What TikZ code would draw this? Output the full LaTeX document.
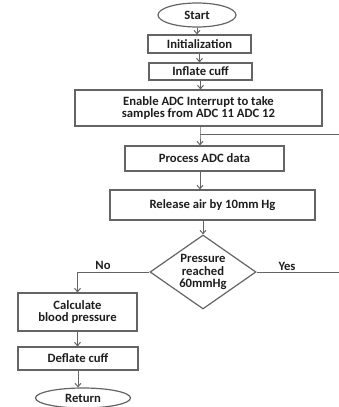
\documentclass[tikz,border=0pt]{standalone}
\usepackage{fontspec}
\setmainfont{Carlito}
\usetikzlibrary{shapes.geometric,arrows.meta}

\definecolor{linegray}{RGB}{100,100,100}
\definecolor{textdark}{RGB}{30,30,30}

\tikzset{every picture/.style={line width=0.75pt}}
\tikzset{
  stepbox/.style={draw=linegray, line width=0.9pt, rectangle, inner sep=0pt, align=center,
    text=textdark, font=\fontsize{9.5}{9.5}\selectfont\bfseries},
  termbox/.style={stepbox, ellipse},
  decbox/.style={stepbox, diamond, aspect=1.43},
  lbl/.style={text=textdark, font=\fontsize{9.5}{9.5}\selectfont\bfseries, inner sep=0pt},
  conn/.style={draw=linegray, line width=0.75pt},
  flow/.style={conn, -{Straight Barb[length=2.5pt,width=4.5pt]}}
}

\begin{document}
\begin{tikzpicture}[x=0.75pt,y=0.75pt,yscale=-1,xscale=1]
%set diagram size 339 x 407
\useasboundingbox (0,0) rectangle (339,407);
\clip (0,0) rectangle (339,407);
%Shape: Ellipse Start
\node[termbox, minimum width=78*0.75pt, minimum height=24*0.75pt] (start) at (197,15) {Start};
%Shape: Rectangle Initialization
\node[stepbox, minimum width=103*0.75pt, minimum height=18*0.75pt] (init) at (199.5,44) {Initialization};
%Shape: Rectangle Inflate
\node[stepbox, minimum width=103*0.75pt, minimum height=17*0.75pt] (inflate) at (200.5,71.5) {Inflate cuff};
%Shape: Rectangle ADC
\node[stepbox, minimum width=247*0.75pt, minimum height=36*0.75pt] (adc) at (198.5,108) {Enable ADC Interrupt to take\\samples from ADC 11 ADC 12};
%Shape: Rectangle Process
\node[stepbox, minimum width=159*0.75pt, minimum height=25*0.75pt] (process) at (204.5,158.5) {Process ADC data};
%Shape: Rectangle Release
\node[stepbox, minimum width=205*0.75pt, minimum height=30*0.75pt] (release) at (212.5,205) {Release air by 10mm Hg};
%Shape: Diamond
\node[decbox, minimum width=106*0.75pt, minimum height=74*0.75pt] (dec) at (203,272) {Pressure\\reached\\60mmHg};
%Shape: Rectangle Calculate
\node[stepbox, minimum width=119*0.75pt, minimum height=38*0.75pt] (calc) at (77.5,312) {Calculate\\blood pressure};
%Shape: Rectangle Deflate
\node[stepbox, minimum width=120*0.75pt, minimum height=23*0.75pt] (deflate) at (78,358.5) {Deflate cuff};
%Shape: Ellipse Return
\node[termbox, minimum width=95*0.75pt, minimum height=20*0.75pt] (ret) at (83,398) {Return};
% Text Node
\node[lbl] (nolbl) at (103,265) {No};
% Text Node
\node[lbl] (yeslbl) at (287,266) {Yes};
%join points
\coordinate (join) at (200,134);
\coordinate (loopR) at (343,134);
%Connectors
\draw[flow] (start.south) -- (start.south |- init.north);
\draw[flow] (init.south) -- (init.south |- inflate.north);
\draw[flow] (inflate.south) -- (inflate.south |- adc.north);
\draw[flow] (adc.south -| join) -- (join) -- (join |- process.north);
\draw[flow] (process.south -| join) -- (join |- release.north);
\draw[flow] (release.south -| dec.north) -- (dec.north);
\draw[conn] (dec.east) -- (loopR |- dec.east) -- (loopR) -- (join);
\draw[flow] (dec.west) -| (calc.north);
\draw[flow] (calc.south) -- (calc.south |- deflate.north);
\draw[flow] (deflate.south) -- (deflate.south |- ret.north);

\end{tikzpicture}
\end{document}
